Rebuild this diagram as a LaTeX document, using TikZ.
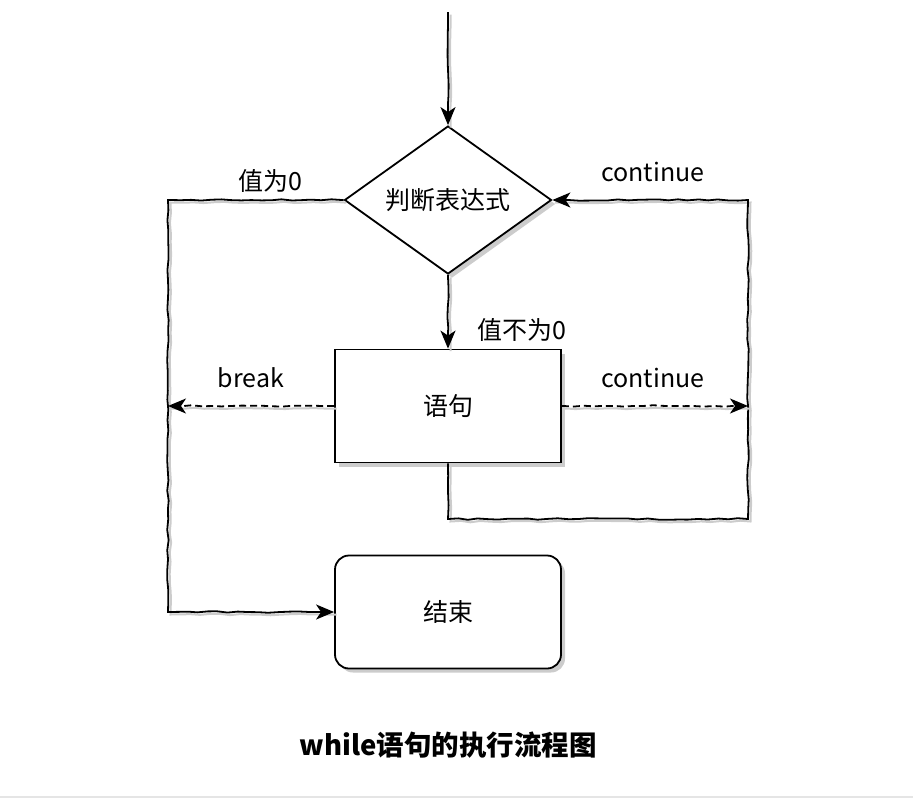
\documentclass[tikz,border=0pt]{standalone}
\usepackage{fontspec}
\setmainfont{Noto Sans CJK SC}
\usetikzlibrary{shapes.geometric,arrows.meta,decorations.pathmorphing,shadows}

\begin{document}
\pgfmathsetseed{11}
\begin{tikzpicture}[x=1pt, y=-1pt, font=\fontsize{25}{30}\selectfont,
    sketch/.style={decorate, decoration={random steps, segment length=10pt, amplitude=0.8pt, pre length=2pt, post length=16pt}},
    shade line/.style={preaction={draw=gray!40, line width=2pt, -, solid, transform canvas={shift={(2.5pt,-2.5pt)}}}},
    flow/.style={sketch, shade line, line width=1.8pt, -{Stealth[length=18pt,width=15pt,inset=5pt]}},
    jump/.style={flow, dash pattern=on 7pt off 4pt},
    boxshadow/.style={drop shadow={shadow xshift=4pt, shadow yshift=-4pt, fill=gray!40, opacity=1}},
    cond/.style={diamond, draw, line width=1.8pt, fill=white, boxshadow, aspect=1.4,
        minimum width=207pt, minimum height=148pt, inner sep=0pt},
    stmtbox/.style={rectangle, draw, line width=1.8pt, fill=white, boxshadow,
        minimum width=226pt, minimum height=113pt},
    endbox/.style={stmtbox, rounded corners=14pt}] % coordenadas en píxeles
\useasboundingbox (0,0) rectangle (913,798);
\node[cond] (test) at (448,200) {判断表达式};
\node[stmtbox] (body) at (448,406) {语句};
\node[endbox] (stop) at (448,612) {结束};
\node[font=\bfseries\fontsize{27.5}{32}\selectfont] (title) at (448,745) {while语句的执行流程图};

\coordinate (entry) at (448,12);
\coordinate (leftup) at (168,200);
\coordinate (brk) at (168,406);
\coordinate (cont) at (748,406);
\coordinate (loopr) at (748,519);

\node (zero) at (270,181) {值为0};
\node (nonzero) at (522,330) {值不为0};
\node (conttop) at (653,172) {continue};
\node (brklabel) at (251,378) {break};
\node (contlabel) at (653,378) {continue};

\draw[flow] (entry) -- (test.north);
\draw[flow] (test.south) -- (body.north);
\draw[flow] (test.west) -- (leftup) |- (stop.west);
\draw[flow] (body.south) |- (loopr) |- (test.east);
\draw[jump] (body.west) -- (brk);
\draw[jump] (body.east) -- (cont);

\draw[gray!20, line width=2pt] (0,797) -- (913,797);
\end{tikzpicture}
\end{document}
